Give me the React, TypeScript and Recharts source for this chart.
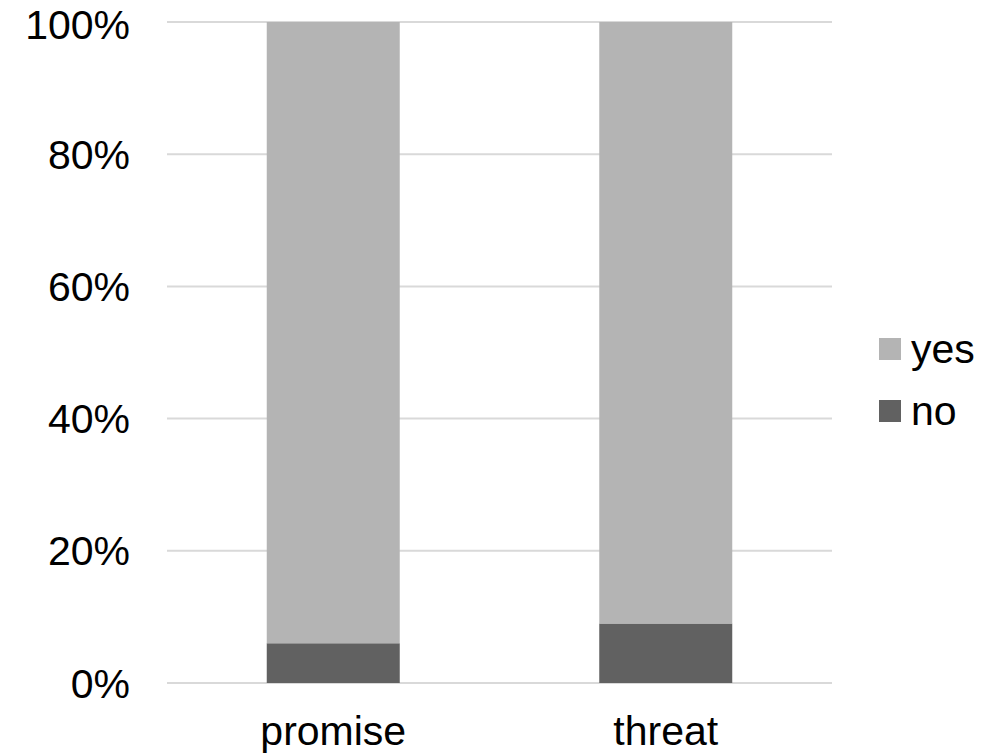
import { Bar, BarChart, CartesianGrid, XAxis, YAxis } from 'recharts';

const categories = ['promise', 'threat'];
const noShare = [6, 9];
const yesShare = [94, 91];
const yTicks = [0, 20, 40, 60, 80, 100];

const YES_COLOR = '#b4b4b4';
const NO_COLOR = '#616161';
const FONT = '"Liberation Sans", Arial, sans-serif';

const data = categories.map((name, i) => ({ name, no: noShare[i], yes: yesShare[i] }));

const legendItems = [
  { label: 'yes', color: YES_COLOR },
  { label: 'no', color: NO_COLOR },
];

// legend sits to the right of the plot, stacked top (yes) over bottom (no)
function SideLegend() {
  return (
    <div
      style={{
        position: 'absolute',
        left: 879,
        top: 318,
        fontFamily: FONT,
        fontSize: 41,
        color: '#000',
      }}
    >
      {legendItems.map((item) => (
        <div key={item.label} style={{ display: 'flex', alignItems: 'center', height: 62 }}>
          <span style={{ width: 22, height: 22, background: item.color, marginRight: 10 }} />
          <span style={{ lineHeight: '42px' }}>{item.label}</span>
        </div>
      ))}
    </div>
  );
}

export default function App() {
  return (
    <div style={{ position: 'absolute', left: 0, top: 0, width: 1004, height: 756 }}>
      <BarChart
        width={1004}
        height={756}
        data={data}
        barCategoryGap="30%"
        margin={{ top: 22, right: 172, left: 0, bottom: 0 }}
      >
        <CartesianGrid vertical={false} stroke="#d9d9d9" strokeWidth={2} />
        <XAxis
          dataKey="name"
          height={73}
          axisLine={false}
          tickLine={false}
          tickSize={0}
          tickMargin={33}
          tick={{ fontSize: 41, fill: '#000', fontFamily: FONT }}
        />
        <YAxis
          width={167}
          domain={[0, 100]}
          ticks={yTicks}
          axisLine={false}
          tickLine={false}
          tickSize={0}
          tickMargin={37}
          tickFormatter={(v) => `${v}%`}
          tick={{ fontSize: 41, fill: '#000', fontFamily: FONT }}
        />
        <Bar dataKey="no" stackId="s" fill={NO_COLOR} isAnimationActive={false} />
        <Bar dataKey="yes" stackId="s" fill={YES_COLOR} isAnimationActive={false} />
      </BarChart>
      <SideLegend />
    </div>
  );
}
